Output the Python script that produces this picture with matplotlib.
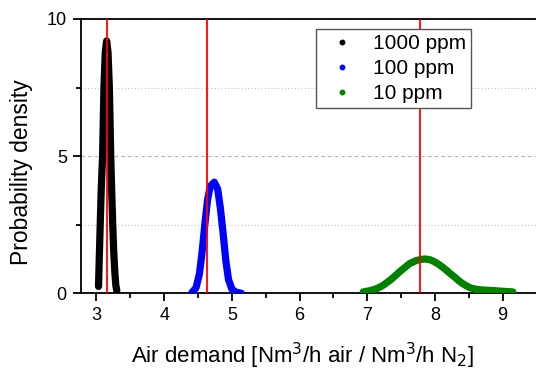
import matplotlib.pyplot as plt
from matplotlib.lines import Line2D
from matplotlib.ticker import MultipleLocator

plt.rcParams['font.family'] = ['Liberation Sans', 'DejaVu Sans']

# points
x_1000 = [3.03, 3.04, 3.055, 3.07, 3.09, 3.11, 3.13, 3.15, 3.17, 3.19, 3.20, 3.21, 3.225, 3.24, 3.255, 3.27, 3.285, 3.30]
y_1000 = [0.25, 1.2, 2.5, 3.8, 5.0, 7.5, 8.8, 9.2, 8.8, 7.5, 6.3, 5.0, 3.7, 2.5, 1.5, 0.8, 0.3, 0.1]

x_100 = [4.41, 4.47, 4.52, 4.56, 4.60, 4.64, 4.68, 4.74, 4.79, 4.83, 4.87, 4.91, 4.95, 5.00, 5.06, 5.14]
y_100 = [0.03, 0.2, 0.7, 1.5, 2.5, 3.4, 3.9, 4.05, 3.8, 3.1, 2.2, 1.2, 0.5, 0.15, 0.04, 0.0]

x_10 = [6.94, 7.05, 7.15, 7.24, 7.36, 7.48, 7.56, 7.63, 7.72, 7.80, 7.86, 7.93, 8.00, 8.07, 8.15, 8.22, 8.30, 8.37, 8.45, 8.52, 8.62, 8.71, 8.85, 8.96, 9.15]
y_10 = [0.05, 0.1, 0.18, 0.3, 0.52, 0.79, 0.95, 1.09, 1.19, 1.24, 1.25, 1.22, 1.14, 1.03, 0.88, 0.73, 0.57, 0.42, 0.29, 0.2, 0.14, 0.12, 0.1, 0.08, 0.05]

medians = [3.155, 4.63, 7.785]
labels = ['1000 ppm', '100 ppm', '10 ppm']
colors = ['black', 'blue', 'green']

fig = plt.figure(figsize=(5.36, 3.72), dpi=100)
ax = fig.add_axes([0.1506, 0.2116, 0.863, 0.7374])

for xs, ys, c in zip([x_1000, x_100, x_10], [y_1000, y_100, y_10], colors):
    ax.plot(xs, ys, color=c, lw=5.2, solid_capstyle='round', solid_joinstyle='round', zorder=3)

for m in medians:
    ax.axvline(m, color='red', lw=1.3, zorder=4)

ax.set_xlim(2.767, 9.6)
ax.set_ylim(0, 10)
ax.xaxis.set_major_locator(MultipleLocator(1))
ax.xaxis.set_minor_locator(MultipleLocator(0.5))
ax.yaxis.set_major_locator(MultipleLocator(5))
ax.yaxis.set_minor_locator(MultipleLocator(2.5))
ax.tick_params(which='major', length=6, width=1.3, labelsize=13, pad=4)
ax.tick_params(which='minor', length=3.5, width=1.3)
ax.grid(axis='y', which='major', ls=(0, (3, 3)), color='#b0b0b0', lw=0.8)
ax.grid(axis='y', which='minor', ls=(0, (1, 2)), color='#c0c0c0', lw=0.8)

for s in ['left', 'bottom', 'top']:
    ax.spines[s].set_linewidth(1.3)
ax.spines['right'].set_visible(False)

ax.set_xlabel('Air demand [Nm$^3$/h air / Nm$^3$/h N$_2$]', fontsize=16)
ax.set_ylabel('Probability density', fontsize=16.5)
ax.xaxis.set_label_coords(0.48, -0.175)
ax.yaxis.set_label_coords(-0.103, 0.44)

handles = [Line2D([], [], marker='o', ls='none', color=c, markersize=3.2) for c in colors]
leg = ax.legend(handles, labels, loc='upper left', bbox_to_anchor=(0.508, 0.9625),
                borderaxespad=0, fontsize=15, fancybox=False, edgecolor='#555555', framealpha=1,
                handletextpad=0.5, borderpad=0.25, labelspacing=0.28, handlelength=2.0)
leg.get_frame().set_linewidth(1.0)

fig.savefig('out.png', dpi=100)
